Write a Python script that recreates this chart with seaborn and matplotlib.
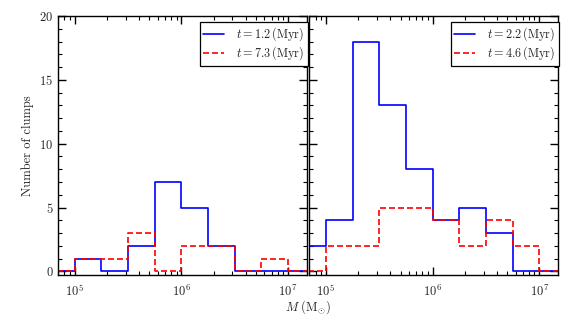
import numpy as np
import pandas as pd
import seaborn as sns
import matplotlib.pyplot as plt
import matplotlib.ticker as ticker

# bin edges in log10(M), 0.25 dex wide
log_edges = [4.75, 5.0, 5.25, 5.5, 5.75, 6.0, 6.25, 6.5, 6.75, 7.0, 7.25]

# clump counts per bin
left_blue = [0, 1, 0, 2, 7, 5, 2, 0, 0, 0]     # t = 1.2 Myr
left_red = [0, 1, 1, 3, 0, 2, 2, 0, 1, 0]      # t = 7.3 Myr
right_blue = [2, 4, 18, 13, 8, 4, 5, 3, 0, 0]  # t = 2.2 Myr
right_red = [0, 2, 2, 5, 5, 4, 2, 4, 2, 0]     # t = 4.6 Myr

labels_left = [r"$t = 1.2\,(\mathrm{Myr})$", r"$t = 7.3\,(\mathrm{Myr})$"]
labels_right = [r"$t = 2.2\,(\mathrm{Myr})$", r"$t = 4.6\,(\mathrm{Myr})$"]

sns.set_style("ticks")
plt.rcParams.update({
    "font.family": "serif",
    "font.serif": ["cmr10", "DejaVu Serif"],
    "mathtext.fontset": "cm",
    "axes.formatter.use_mathtext": True,
    "font.size": 9,
    "axes.linewidth": 1.0,
})

edges = np.array(log_edges)
centers = 10 ** ((edges[:-1] + edges[1:]) / 2)

fig, axes = plt.subplots(1, 2, figsize=(5.76, 3.2), dpi=100, sharey=True)
fig.subplots_adjust(left=0.101, right=0.969, top=0.95, bottom=0.14, wspace=0.01)

panels = [(axes[0], left_blue, left_red, labels_left),
          (axes[1], right_blue, right_red, labels_right)]

for ax, blue, red, labs in panels:
    df = pd.DataFrame({"M": centers, "blue": blue, "red": red})
    sns.histplot(ax=ax, data=df, x="M", weights="blue", bins=list(log_edges), log_scale=True,
                 element="step", fill=False, color="b", linewidth=1.2, label=labs[0])
    sns.histplot(ax=ax, data=df, x="M", weights="red", bins=list(log_edges), log_scale=True,
                 element="step", fill=False, color="r", linewidth=1.2, dashes=(3.6, 1.8),
                 label=labs[1])
    ax.set_xlim(7e4, 1.5e7)
    ax.set_ylim(-0.3, 20)
    ax.set_xlabel("")
    ax.set_ylabel("")
    ax.yaxis.set_major_locator(ticker.MultipleLocator(5))
    ax.yaxis.set_minor_locator(ticker.MultipleLocator(1))
    ax.xaxis.set_major_locator(ticker.LogLocator(base=10))
    ax.xaxis.set_minor_locator(ticker.LogLocator(base=10, subs=np.arange(2, 10)))
    ax.xaxis.set_minor_formatter(ticker.NullFormatter())
    ax.tick_params(which="both", top=True, right=True, direction="in", color="k")
    ax.tick_params(which="major", length=6, width=1.0)
    ax.tick_params(which="minor", length=3, width=0.8)
    ax.tick_params(axis="x", which="major", pad=6)
    for s in ax.spines.values():
        s.set_color("k")
    leg = ax.legend(loc="upper right", bbox_to_anchor=(1.005, 0.977), borderaxespad=0,
                    fancybox=False, edgecolor="k", framealpha=1, fontsize=8.8,
                    handlelength=1.7, handletextpad=1.0, borderpad=0.3, labelspacing=0.1)
    leg.get_frame().set_linewidth(0.9)

axes[1].tick_params(axis="y", labelleft=False)
axes[0].set_ylabel("Number of clumps")
fig.text(0.535, 0.04, r"$M\ (\mathrm{M}_{\odot})$", ha="center", va="center", fontsize=9)

fig.savefig("out.png", dpi=100)
